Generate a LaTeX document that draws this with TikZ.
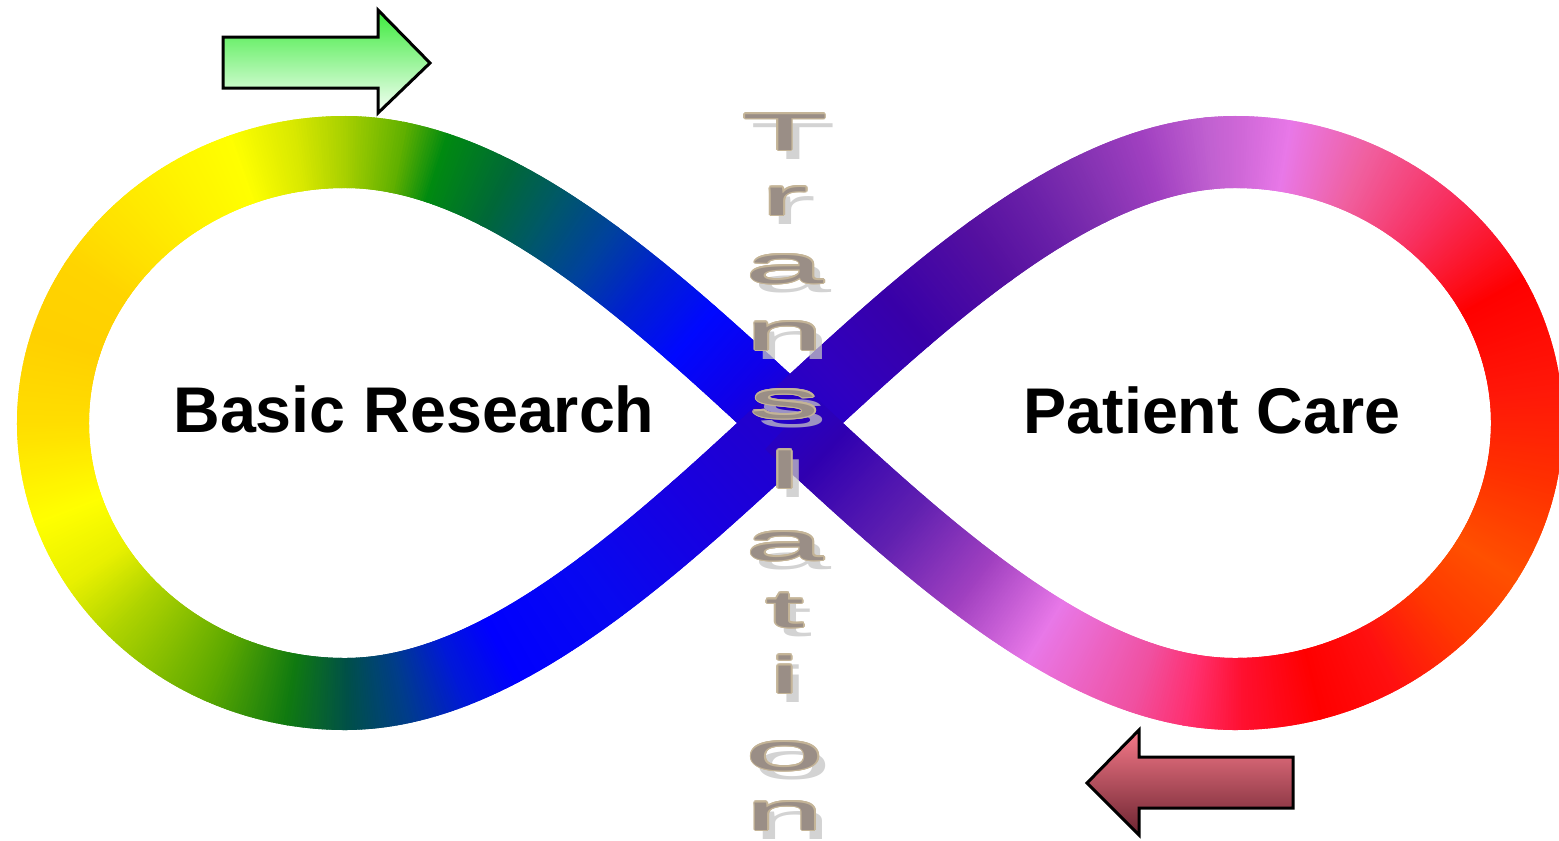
\documentclass[tikz,border=0pt]{standalone}
\usepackage{fontspec}
\usepackage{graphicx}
\newfontfamily\lsans{Liberation Sans}
\usetikzlibrary{decorations.markings,calc}
\definecolor{tanc}{HTML}{C4B497}
\definecolor{stonec}{HTML}{9A8E86}
\definecolor{shadowc}{HTML}{C4C4C4}
\definecolor{grtop}{HTML}{3CEA3C}
\definecolor{grmid}{HTML}{A4F8A4}
\definecolor{grbot}{HTML}{F6FFF6}
\definecolor{rdtop}{HTML}{F77A8A}
\definecolor{rdmid}{HTML}{D25C6C}
\definecolor{rdbot}{HTML}{6C2430}
\newcommand\gradpiece{%
  \pgfmathsetmacro\gpp{max(0,min(100,100*(\pgfkeysvalueof{/pgf/decoration/mark info/distance from start}-\psd)/(\sd-\psd)))}%
  \colorlet{gcur}{gb!\gpp!ga}%
  \fill[gcur] (-2.4pt,-36pt) rectangle (2.4pt,36pt);%
}
\newcommand\tletter[3]{%
  \node[ltr, text=shadowc, text opacity=0.75] (#1s) at (793,#2+9) {\scalebox{2.7}[1]{#3}};
  \foreach \ang [count=\k] in {0,30,...,330}
    \node[ltr, text=tanc] (#1o\k) at ($(785,#2)+(\ang:1.7)$) {\scalebox{2.7}[1]{#3}};
  \node[ltr, text=stonec] (#1) at (785,#2) {\scalebox{2.7}[1]{#3}};
}
\begin{document}
\begin{tikzpicture}[x=1pt,y=-1pt,
  ltr/.style={anchor=base, inner sep=0pt, font=\lsans\fontsize{52}{52}\selectfont},
  lbl/.style={anchor=base, inner sep=0pt, font=\lsans\bfseries\fontsize{64.6}{70}\selectfont},
  arrowbox/.style={draw=black, line width=3pt, line join=miter}]
\useasboundingbox (0,0) rectangle (1559,841);
% gradient infinity band
\foreach \sd/\sc [remember=\sd as \psd (initially 0), remember=\sc as \psc (initially 2400C8)] in {
  0/2400C8, 60/1000E8, 133/0008FF, 200/0020D0, 256/0040A0, 320/005868, 373/006838,
  440/008A10, 479/60B000, 534/A8D000, 580/D8E800, 639/FFFF00, 705/FFF200, 782/FFE000,
  826/FFD400, 895/FFD000, 978/FFDE00, 1066/FFFF00, 1128/E8F000, 1184/B0D400, 1289/5CA800,
  1364/107A10, 1421/005048, 1476/003C8C, 1530/0018D8, 1582/0000FF, 1699/0808F0, 1822/1800E0,
  1957/2400C8, 2017/3000C0, 2107/3800A8, 2213/5510A0, 2277/6A20A8, 2330/8030B0, 2397/A040C0,
  2457/C060D0, 2491/D068D8, 2534/E878E8, 2608/F060A0, 2693/F83060, 2793/FF0000, 2896/FF1808,
  2981/FF3000, 3071/FF5000, 3143/FF3800, 3217/FF1010, 3289/FF0000, 3361/FF1030, 3412/FF3070,
  3462/F050A0, 3571/E878E8, 3657/A040C0, 3749/6020B0, 3854/3000B0, 3914/2400C8, 4100/2400C8}
{
  \ifdim\sd pt>\psd pt
    \definecolor{ga}{HTML}{\psc}\definecolor{gb}{HTML}{\sc}
    \path[decorate,decoration={markings,mark=between positions \psd pt and \sd pt step 2.4pt with {\gradpiece}}]
      (790,423) .. controls (644,287) and (495,152) .. (345,152)
      .. controls (184,152) and (53,273) .. (53,423)
      .. controls (53,573) and (184,694) .. (345,694)
      .. controls (495,694) and (644,559) .. (790,423)
      .. controls (936,287) and (1085,152) .. (1235,152)
      .. controls (1396,152) and (1527,273) .. (1527,423)
      .. controls (1527,573) and (1396,694) .. (1235,694)
      .. controls (1085,694) and (936,559) .. (790,423);
  \fi
}
% Translation letters
\tletter{L1}{150}{T}
\tletter{L2}{215}{r}
\tletter{L3}{283}{a}
\tletter{L4}{350}{n}
\tletter{L5}{418}{s}
\tletter{L6}{488}{l}
\tletter{L7}{560}{a}
\tletter{L8}{627}{t}
\tletter{L9}{693}{i}
\tletter{L10}{770}{o}
\tletter{L11}{830}{n}
% labels
\node[lbl] (basic) at (414,432) {Basic Research};
\node[lbl] (care) at (1212,433) {Patient Care};
% arrows
\path[arrowbox, top color=grtop, middle color=grmid, bottom color=grbot]
  (223,37) -- (378,37) -- (378,10) -- (430,63) -- (378,113) -- (378,88) -- (223,88) -- cycle;
\path[arrowbox, top color=rdtop, middle color=rdmid, bottom color=rdbot]
  (1293,757) -- (1139,757) -- (1139,730) -- (1087,783) -- (1139,835) -- (1139,808) -- (1293,808) -- cycle;
\end{tikzpicture}
\end{document}
